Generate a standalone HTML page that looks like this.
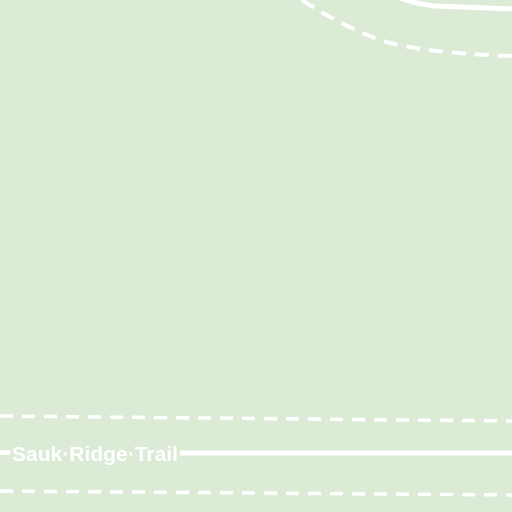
<!DOCTYPE html>
<html><head><style>
html,body{margin:0;padding:0;width:512px;height:512px;overflow:hidden;background:#dcebd5}
</style></head><body>
<svg width="512" height="512" viewBox="0 0 512 512">
<rect width="512" height="512" fill="#dcebd5"/>
<path d="M398,-3 Q415,4 435,6 L512,9" fill="none" stroke="#fff" stroke-width="5"/>
<path d="M302,0 Q340,25 380,40 Q420,53 512,56" fill="none" stroke="#fff" stroke-width="4" stroke-dasharray="14,9"/>
<path d="M0,416 L512,421" fill="none" stroke="#fff" stroke-width="3.5" stroke-dasharray="13,9"/>
<path d="M0,491 L512,495" fill="none" stroke="#fff" stroke-width="3.5" stroke-dasharray="13,9"/>
<path d="M0,452.5 L10,452.5 M180,453 L512,453" fill="none" stroke="#fff" stroke-width="5"/>
<text x="12" y="461" font-family="Liberation Sans, sans-serif" font-size="20" font-weight="bold" fill="#fff" textLength="166" lengthAdjust="spacingAndGlyphs">Sauk·Ridge·Trail</text>
</svg>
</body></html>
